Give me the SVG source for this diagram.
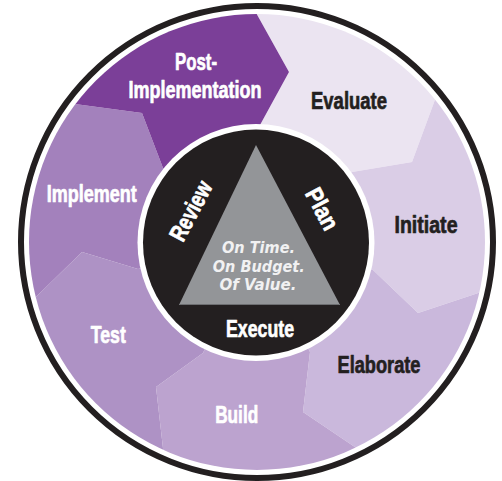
<svg xmlns="http://www.w3.org/2000/svg" width="502" height="481" viewBox="0 0 502 481">
<defs>
<clipPath id="ring"><circle cx="257" cy="242" r="228"/></clipPath>
<style>
.lbl{font-family:"Liberation Sans",Arial,sans-serif;font-weight:bold;font-size:24px;text-anchor:middle;stroke-width:0.7px;stroke-linejoin:round}
.w{fill:#ffffff;stroke:#ffffff}
.d{fill:#231f20;stroke:#231f20}
.tri{font-family:"DejaVu Sans","Liberation Sans",sans-serif;font-weight:bold;font-style:italic;font-size:15px;fill:#f1f1f2;text-anchor:middle}
</style>
</defs>
<rect x="0" y="0" width="502" height="481" fill="#ffffff"/>
<g clip-path="url(#ring)">
<g id="evaluate"><polygon fill="#ebe4f1" points="257,242 260,125 289,72 247.3,-2.8 383.8,-51.8 441.8,81.2 412,162 352,172"/></g>
<g id="initiate"><polygon fill="#dacde6" points="257,242 352,172 412,162 441.8,81.2 565.7,157.6 498,286.4 418,313 373,270"/></g>
<g id="elaborate"><polygon fill="#cab8dc" points="257,242 373,270 418,313 498,286.4 515.2,431 371.9,458.4 303,412 310,352"/></g>
<g id="build"><polygon fill="#bca3cf" points="257,242 310,352 303,412 371.9,458.4 273.7,561.6 165.4,469.2 156,387 203,353"/></g>
<g id="test"><polygon fill="#ae92c5" points="257,242 203,353 156,387 165.4,469.2 19.7,456.8 21.9,310.8 82,252 138,269"/></g>
<g id="implement"><polygon fill="#a381bc" points="257,242 138,269 82,252 21.9,310.8 -58.8,190.3 56.3,101.6 142,113 163,168"/></g>
<g id="post-implementation"><polygon fill="#7b3f98" points="257,242 163,168 142,113 56.3,101.6 103.3,-38.7 247.3,-2.8 289,72 260,125"/></g>
</g>
<circle cx="257" cy="242" r="236" fill="none" stroke="#231f20" stroke-width="6"/>
<g id="center">
<circle cx="256" cy="242.5" r="118.5" fill="#ffffff"/>
<circle cx="256" cy="242.5" r="113" fill="#231f20"/>
<polygon fill="#939598" points="256,145 340,305 179,305"/>
<line x1="180" y1="304.5" x2="339" y2="304.5" stroke="#6d6e71" stroke-width="1"/>
<text class="tri" x="258.5" y="252.7" textLength="73" lengthAdjust="spacingAndGlyphs">On Time.</text>
<text class="tri" x="258.8" y="271.7" textLength="92" lengthAdjust="spacingAndGlyphs">On Budget.</text>
<text class="tri" x="258" y="290" textLength="77" lengthAdjust="spacingAndGlyphs">Of Value.</text>
</g>
<g id="review"><text class="lbl w" transform="translate(191,211) rotate(-62)" x="0" y="8" textLength="64" lengthAdjust="spacingAndGlyphs">Review</text></g>
<g id="plan"><text class="lbl w" transform="translate(322,209) rotate(62)" x="0" y="8" textLength="44" lengthAdjust="spacingAndGlyphs">Plan</text></g>
<g id="execute"><text class="lbl w" x="260" y="336.7" textLength="68" lengthAdjust="spacingAndGlyphs">Execute</text></g>
<g id="labels">
<text class="lbl w" x="196" y="70" textLength="42" lengthAdjust="spacingAndGlyphs">Post-</text>
<text class="lbl w" x="195" y="97.7" textLength="133" lengthAdjust="spacingAndGlyphs">Implementation</text>
<text class="lbl d" x="349" y="109.3" textLength="76" lengthAdjust="spacingAndGlyphs">Evaluate</text>
<text class="lbl d" x="426" y="233.3" textLength="63" lengthAdjust="spacingAndGlyphs">Initiate</text>
<text class="lbl d" x="379" y="372.7" textLength="83" lengthAdjust="spacingAndGlyphs">Elaborate</text>
<text class="lbl w" x="236.7" y="423.3" textLength="43" lengthAdjust="spacingAndGlyphs">Build</text>
<text class="lbl w" x="108.3" y="342.7" textLength="35" lengthAdjust="spacingAndGlyphs">Test</text>
<text class="lbl w" x="91.7" y="201.7" textLength="90" lengthAdjust="spacingAndGlyphs">Implement</text>
</g>
</svg>
